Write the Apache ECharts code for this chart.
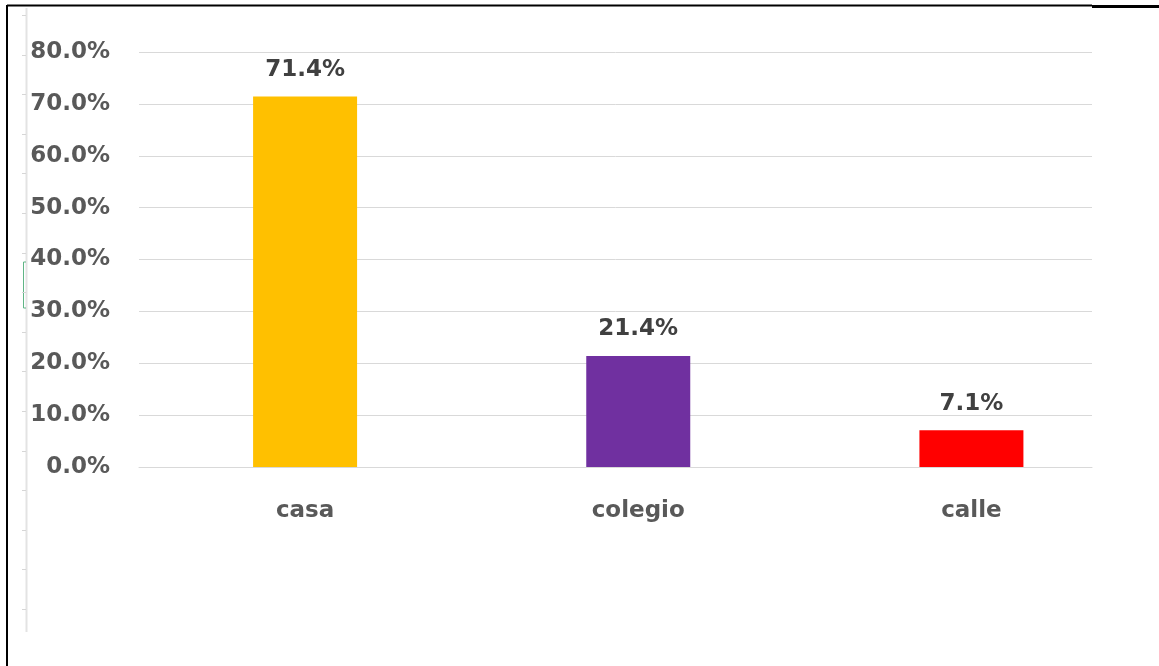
<!DOCTYPE html>
<html>
<head>
<meta charset="utf-8">
<script src="https://cdn.jsdelivr.net/npm/echarts@6/dist/echarts.min.js"></script>
<style>
html,body{margin:0;padding:0;background:#fff;}
#chart{width:1159px;height:666px;}
</style>
</head>
<body>
<div id="chart"></div>
<script>
const categories = ['casa', 'colegio', 'calle'];
const values = [0.714, 0.214, 0.071];
const barColors = ['#FFC000', '#7030A0', '#FF0000'];
const yTicks = [0, 0.1, 0.2, 0.3, 0.4, 0.5, 0.6, 0.7, 0.8];

const chart = echarts.init(document.getElementById('chart'), null, {renderer: 'canvas'});

const FONT = '"DejaVu Sans", "Open Sans", sans-serif';

// decorative frame and ruler (not data)
const graphics = [
  {type: 'line', shape: {x1: 7, y1: 5.5, x2: 1092, y2: 5.5}, style: {stroke: '#000', lineWidth: 2}},
  {type: 'line', shape: {x1: 1092, y1: 6.5, x2: 1159, y2: 6.5}, style: {stroke: '#000', lineWidth: 3}},
  {type: 'line', shape: {x1: 7, y1: 5, x2: 7, y2: 666}, style: {stroke: '#000', lineWidth: 2}},
  {type: 'line', shape: {x1: 26.5, y1: 8, x2: 26.5, y2: 632}, style: {stroke: '#e3e3e3', lineWidth: 2}},
  {type: 'polyline', shape: {points: [[26, 262], [23.5, 262], [23.5, 308], [26, 308]]}, style: {stroke: '#5fb585', lineWidth: 1, fill: null}}
];
for (let k = 0; k <= 15; k++) {
  const y = Math.round(15 + 39.6 * k) + 0.5;
  graphics.push({type: 'line', shape: {x1: 22, y1: y, x2: 26, y2: y}, style: {stroke: '#d6d6d6', lineWidth: 1}});
}

chart.setOption({
  animation: false,
  backgroundColor: '#fff',
  graphic: graphics,
  grid: [
    {left: 139, right: 67, top: 52, bottom: 199},
    {left: 138.5, right: 21, top: 52, bottom: 199}
  ],
  xAxis: [
    {
      gridIndex: 0, type: 'category', data: categories,
      axisLine: {show: true, lineStyle: {color: '#d9d9d9', width: 1}},
      axisTick: {show: false}, axisLabel: {show: false}, splitLine: {show: false}
    },
    {
      gridIndex: 1, type: 'category', data: categories,
      axisLine: {show: false}, axisTick: {show: false}, splitLine: {show: false},
      axisLabel: {color: '#595959', fontFamily: FONT, fontWeight: 'bold', fontSize: 23, margin: 33}
    }
  ],
  yAxis: [
    {
      gridIndex: 0, type: 'value', min: 0, max: 0.8, interval: 0.1,
      axisLine: {show: false}, axisTick: {show: false},
      splitLine: {show: true, lineStyle: {color: '#d9d9d9', width: 1}},
      axisLabel: {
        color: '#595959', fontFamily: FONT, fontWeight: 'bold', fontSize: 23, margin: 29,
        formatter: v => (v * 100).toFixed(1) + '%'
      }
    },
    {
      gridIndex: 1, type: 'value', min: 0, max: 0.8, interval: 0.1, show: false,
      splitLine: {show: false}
    }
  ],
  series: [
    {
      type: 'bar', xAxisIndex: 0, yAxisIndex: 0, data: values.map(() => null), silent: true
    },
    {
      type: 'bar', xAxisIndex: 1, yAxisIndex: 1, barWidth: 104,
      data: values.map((v, i) => ({value: v, itemStyle: {color: barColors[i]}})),
      label: {
        show: true, position: 'top', distance: 15,
        color: '#404040', fontFamily: FONT, fontWeight: 'bold', fontSize: 23,
        formatter: p => (p.value * 100).toFixed(1) + '%'
      }
    }
  ]
});
</script>
</body>
</html>
